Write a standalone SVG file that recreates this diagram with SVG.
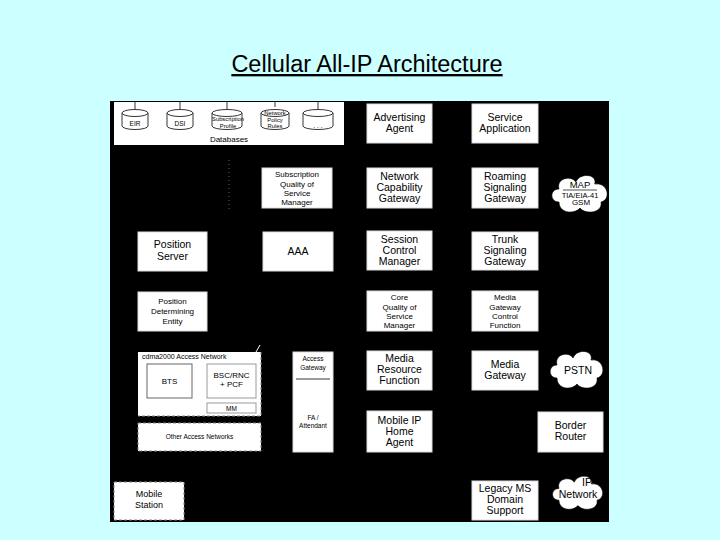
<svg xmlns="http://www.w3.org/2000/svg" width="720" height="540" viewBox="0 0 720 540">
<defs>
<style>
.box{fill:#fff;stroke:#ddd;stroke-width:1}
.t{font-family:"Liberation Sans",Arial,sans-serif;font-size:10.5px;fill:#000;text-anchor:middle}
.s{font-family:"Liberation Sans",Arial,sans-serif;font-size:8px;fill:#000;text-anchor:middle}
.xs{font-family:"Liberation Sans",Arial,sans-serif;font-size:6.5px;fill:#000;text-anchor:middle}
.db{font-family:"Liberation Sans",Arial,sans-serif;font-size:5.8px;fill:#000;text-anchor:middle}
.cyl{fill:#fff;stroke:#000;stroke-width:0.8}
.dash{fill:#fff;stroke:#888;stroke-width:1;stroke-dasharray:3 2}
.cloud{fill:#fff;stroke:#000;stroke-width:0.6}
</style>
<path id="cloud" d="M -20,8 C -29,8 -29,-5 -20,-5 C -23,-16 -8,-19 -4,-12 C 0,-22 17,-20 14,-10 C 27,-12 30,6 20,8 C 22,19 5,21 0,14 C -6,21 -20,19 -20,8 Z"/>
</defs>
<rect width="720" height="540" fill="#ccffff"/>
<text x="367" y="72" font-family="Liberation Sans,Arial,sans-serif" font-size="23.5" text-anchor="middle" text-decoration="underline" fill="#000">Cellular All-IP Architecture</text>
<rect x="110" y="101" width="499" height="421" fill="#000"/>

<g id="connectors">
<line x1="229" y1="160" x2="229" y2="210" stroke="#666" stroke-width="1" stroke-dasharray="1 3"/>
<line x1="138" y1="381" x2="147" y2="381" stroke="#999" stroke-width="1.5" stroke-dasharray="3 2"/>
<line x1="192" y1="381" x2="207" y2="381" stroke="#999" stroke-width="2"/>
<line x1="256" y1="381" x2="261" y2="381" stroke="#999" stroke-width="2"/>
<line x1="250" y1="398" x2="250" y2="403" stroke="#666" stroke-width="1"/>
<line x1="256" y1="352" x2="260" y2="345" stroke="#fff" stroke-width="1"/>
</g>

<g id="databases">
<rect x="114" y="102" width="230" height="43" fill="#fff"/>
<g stroke="#000" stroke-width="0.8">
<line x1="135" y1="102" x2="135" y2="109"/>
<line x1="180" y1="102" x2="180" y2="109"/>
<line x1="227" y1="102" x2="227" y2="109"/>
<line x1="275" y1="102" x2="275" y2="107"/>
<line x1="318" y1="102" x2="318" y2="109"/>
</g>
<g>
<path class="cyl" d="M122,113 v13 a13,3.5 0 0 0 26,0 v-13"/><ellipse class="cyl" cx="135" cy="113" rx="13" ry="3.5"/>
<path class="cyl" d="M167,113 v13 a13,3.5 0 0 0 26,0 v-13"/><ellipse class="cyl" cx="180" cy="113" rx="13" ry="3.5"/>
<path class="cyl" d="M212,113 v13 a15,3.5 0 0 0 30,0 v-13"/><ellipse class="cyl" cx="227" cy="113" rx="15" ry="3.5"/>
<path class="cyl" d="M261,113 v13 a14,3.5 0 0 0 28,0 v-13"/><ellipse class="cyl" cx="275" cy="113" rx="14" ry="3.5"/>
<path class="cyl" d="M303,113 v13 a15,3.5 0 0 0 30,0 v-13"/><ellipse class="cyl" cx="318" cy="113" rx="15" ry="3.5"/>
</g>
<text class="xs" x="135" y="126">EIR</text>
<text class="xs" x="180" y="126">DSI</text>
<text class="db" x="228" y="121">Subscription</text>
<text class="db" x="228" y="127.5">Profile</text>
<text class="db" x="275" y="115">Network</text>
<text class="db" x="275" y="121.5">Policy</text>
<text class="db" x="275" y="128">Rules</text>
<text class="xs" x="318" y="128">. . .</text>
<text class="s" x="229" y="142">Databases</text>
</g>

<g id="sqsm"><rect class="box" x="262" y="168" width="70" height="40"/>
<text class="s" x="297" y="177">Subscription</text><text class="s" x="297" y="187">Quality of</text><text class="s" x="297" y="196">Service</text><text class="s" x="297" y="205">Manager</text></g>

<g id="advertising"><rect class="box" x="367" y="104" width="65" height="39"/>
<text class="t" x="399.5" y="121">Advertising</text><text class="t" x="399.5" y="132">Agent</text></g>
<g id="service"><rect class="box" x="472" y="104" width="66" height="39"/>
<text class="t" x="505" y="121">Service</text><text class="t" x="505" y="132">Application</text></g>
<g id="ncg"><rect class="box" x="367" y="168" width="65" height="40"/>
<text class="t" x="399.5" y="180">Network</text><text class="t" x="399.5" y="191">Capability</text><text class="t" x="399.5" y="202">Gateway</text></g>
<g id="rsg"><rect class="box" x="472" y="168" width="66" height="40"/>
<text class="t" x="505" y="180">Roaming</text><text class="t" x="505" y="191">Signaling</text><text class="t" x="505" y="202">Gateway</text></g>
<g id="map"><use href="#cloud" class="cloud" transform="translate(580,194) scale(1.05,1.0)"/>
<text class="s" x="580" y="188" style="font-size:9.5px">MAP</text><line x1="563" y1="190" x2="597" y2="190" stroke="#000" stroke-width="0.7"/>
<text class="xs" x="580" y="197.5" style="font-size:7.5px">TIA/EIA-41</text><text class="s" x="581" y="205">GSM</text></g>

<g id="posserver"><rect class="box" x="138" y="232" width="69" height="39"/>
<text class="t" x="172.5" y="248">Position</text><text class="t" x="172.5" y="260">Server</text></g>
<g id="aaa"><rect class="box" x="263" y="232" width="70" height="39"/>
<text class="t" x="298" y="255">AAA</text></g>
<g id="scm"><rect class="box" x="367" y="231" width="65" height="39"/>
<text class="t" x="399.5" y="243">Session</text><text class="t" x="399.5" y="254">Control</text><text class="t" x="399.5" y="265">Manager</text></g>
<g id="tsg"><rect class="box" x="472" y="232" width="66" height="38"/>
<text class="t" x="505" y="243">Trunk</text><text class="t" x="505" y="254">Signaling</text><text class="t" x="505" y="265">Gateway</text></g>

<g id="pde"><rect class="box" x="138" y="292" width="69" height="39"/>
<text class="s" x="172.5" y="304">Position</text><text class="s" x="172.5" y="314">Determining</text><text class="s" x="172.5" y="324">Entity</text></g>
<g id="cqsm"><rect class="box" x="367" y="291" width="65" height="40"/>
<text class="s" x="399.5" y="300">Core</text><text class="s" x="399.5" y="310">Quality of</text><text class="s" x="399.5" y="319">Service</text><text class="s" x="399.5" y="328">Manager</text></g>
<g id="mgcf"><rect class="box" x="472" y="291" width="66" height="40"/>
<text class="s" x="505" y="300">Media</text><text class="s" x="505" y="310">Gateway</text><text class="s" x="505" y="319">Control</text><text class="s" x="505" y="328">Function</text></g>

<g id="cdma">
<path d="M138,352 H257 L261,352 V416 H138 Z" fill="#fff"/>
<path d="M261,352 V416 H138" fill="none" stroke="#888" stroke-dasharray="3 2"/>
<text class="xs" x="142" y="359" style="text-anchor:start;font-size:7px">cdma2000 Access Network</text>
</g>
<g id="bts"><rect x="147" y="364" width="45" height="34" fill="#fff" stroke="#666"/>
<text class="s" x="169.5" y="384">BTS</text></g>
<g id="bsc"><rect x="207" y="364" width="49" height="34" fill="#fff" stroke="#999"/>
<text class="s" x="231.5" y="378">BSC/RNC</text><text class="s" x="231.5" y="387">+ PCF</text></g>
<g id="mm"><rect x="207" y="403" width="49" height="10" fill="#fff" stroke="#999"/>
<text class="xs" x="231.5" y="411">MM</text></g>
<g id="other"><rect class="dash" x="138" y="423" width="123" height="28"/>
<text class="xs" x="199.5" y="439">Other Access Networks</text></g>

<g id="agw"><rect class="box" x="293" y="352" width="40" height="100"/>
<text class="xs" x="313" y="361">Access</text><text class="xs" x="313" y="370">Gateway</text>
<line x1="296" y1="379" x2="330" y2="379" stroke="#000" stroke-width="0.8"/>
<text class="xs" x="313" y="420">FA /</text><text class="xs" x="313" y="428">Attendant</text></g>

<g id="mrf"><rect class="box" x="367" y="351" width="65" height="39"/>
<text class="t" x="399.5" y="362">Media</text><text class="t" x="399.5" y="373">Resource</text><text class="t" x="399.5" y="384">Function</text></g>
<g id="mg"><rect class="box" x="472" y="351" width="66" height="39"/>
<text class="t" x="505" y="368">Media</text><text class="t" x="505" y="379">Gateway</text></g>
<g id="pstn"><use href="#cloud" class="cloud" transform="translate(577,370) scale(1.0,1.0)"/>
<text class="t" x="578" y="374">PSTN</text></g>

<g id="mipha"><rect class="box" x="367" y="411" width="65" height="41"/>
<text class="t" x="399.5" y="424">Mobile IP</text><text class="t" x="399.5" y="435">Home</text><text class="t" x="399.5" y="446">Agent</text></g>
<g id="border"><rect class="box" x="538" y="412" width="65" height="40"/>
<text class="t" x="570.5" y="429">Border</text><text class="t" x="570.5" y="440">Router</text></g>

<g id="mobile"><rect class="dash" x="114" y="482" width="70" height="38"/>
<text class="s" x="149" y="497" style="font-size:9px">Mobile</text><text class="s" x="149" y="508" style="font-size:9px">Station</text></g>
<g id="legacy"><rect class="box" x="472" y="481" width="66" height="39"/>
<text class="t" x="505" y="492">Legacy MS</text><text class="t" x="505" y="503">Domain</text><text class="t" x="505" y="514">Support</text></g>
<g id="ipnet"><use href="#cloud" class="cloud" transform="translate(578,493) scale(0.95,0.9)"/>
<text class="t" x="587" y="486">IP</text><text class="t" x="578" y="498">Network</text></g>
</svg>
